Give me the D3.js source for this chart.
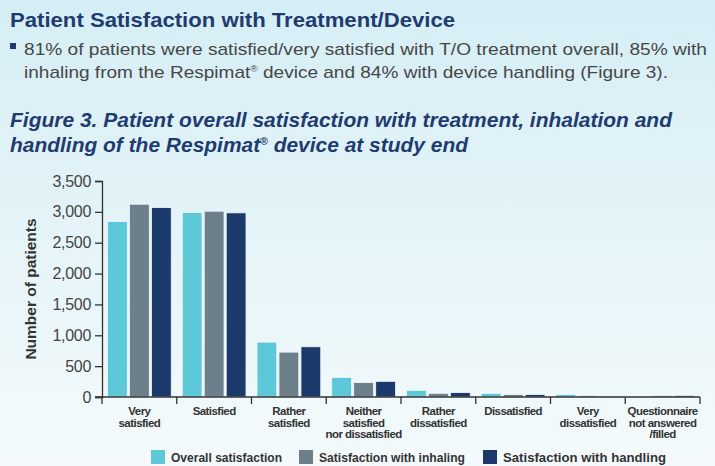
<!DOCTYPE html>
<html><head><meta charset="utf-8">
<script src="https://cdn.jsdelivr.net/npm/d3@7"></script>
<style>
html,body{margin:0;padding:0;}
body{width:715px;height:466px;overflow:hidden;}
text{font-family:"Liberation Sans",Arial,sans-serif;}
</style></head>
<body>
<svg id="c" width="715" height="466"></svg>
<script>
const categories = [
  ["Very","satisfied"],
  ["Satisfied"],
  ["Rather","satisfied"],
  ["Neither","satisfied","nor dissatisfied"],
  ["Rather","dissatisfied"],
  ["Dissatisfied"],
  ["Very","dissatisfied"],
  ["Questionnaire","not answered","/filled"]
];
const seriesNames = ["Overall satisfaction","Satisfaction with inhaling","Satisfaction with handling"];
const overall  = [2843, 2989, 889, 318, 108, 60, 39, 15];
const inhaling = [3124, 3011, 727, 233, 60, 39, 20, 20];
const handling = [3070, 2984, 814, 254, 71, 39, 15, 25];
const yTicks = [0,500,1000,1500,2000,2500,3000,3500];
const colors = ["#5cc8d8","#6c7f8a","#1b3a6b"];

const svg = d3.select("#c");
const defs = svg.append("defs");
const g = defs.append("linearGradient").attr("id","bg").attr("x1",0).attr("y1",0).attr("x2",0).attr("y2",1);
g.append("stop").attr("offset","0%").attr("stop-color","#d5eef5");
g.append("stop").attr("offset","100%").attr("stop-color","#f4fafb");
svg.append("rect").attr("width",715).attr("height",466).attr("fill","url(#bg)");

// header texts
svg.append("text").attr("x",10).attr("y",27).attr("font-size",21).attr("font-weight","bold")
  .attr("fill","#1f3b70").attr("textLength",445).attr("lengthAdjust","spacingAndGlyphs")
  .text("Patient Satisfaction with Treatment/Device");
svg.append("rect").attr("x",10).attr("y",43).attr("width",6).attr("height",6).attr("fill","#1f3b70");
const body1 = svg.append("text").attr("x",24).attr("y",55).attr("font-size",17).attr("fill","#474747")
  .attr("textLength",683).attr("lengthAdjust","spacingAndGlyphs");
body1.text("81% of patients were satisfied/very satisfied with T/O treatment overall, 85% with");
const body2 = svg.append("text").attr("x",24).attr("y",78).attr("font-size",17).attr("fill","#474747")
  .attr("textLength",644).attr("lengthAdjust","spacingAndGlyphs");
body2.append("tspan").text("inhaling from the Respimat");
body2.append("tspan").attr("font-size",9).attr("dy",-6).text("®");
body2.append("tspan").attr("dy",6).text(" device and 84% with device handling (Figure 3).");

svg.append("text").attr("x",10).attr("y",127).attr("font-size",20).attr("font-weight","bold")
  .attr("font-style","italic").attr("fill","#1f3b70").attr("textLength",662).attr("lengthAdjust","spacingAndGlyphs")
  .text("Figure 3. Patient overall satisfaction with treatment, inhalation and");
const f2 = svg.append("text").attr("x",10).attr("y",152).attr("font-size",20).attr("font-weight","bold")
  .attr("font-style","italic").attr("fill","#1f3b70").attr("textLength",458).attr("lengthAdjust","spacingAndGlyphs");
f2.append("tspan").text("handling of the Respimat");
f2.append("tspan").attr("font-size",10).attr("dy",-7).text("®");
f2.append("tspan").attr("dy",7).text(" device at study end");

// chart
const x0 = 102, x1 = 700, yBase = 397, yTop = 181;
const x = d3.scaleBand().domain(d3.range(categories.length)).range([x0,x1]).padding(0);
const xs = d3.scaleBand().domain(d3.range(3)).range([5.5, x.bandwidth()-5.5]).paddingInner(0.1).paddingOuter(0);
const y = d3.scaleLinear().domain([0,3500]).range([yBase,yTop]);

const series = [overall, inhaling, handling];
const grp = svg.append("g");
categories.forEach((c,i)=>{
  const gg = grp.append("g").attr("transform",`translate(${x(i)},0)`);
  gg.selectAll("rect").data(series.map((s,k)=>({k, v:s[i]}))).join("rect")
    .attr("x",d=>xs(d.k)).attr("width",xs.bandwidth())
    .attr("y",d=>y(d.v)).attr("height",d=>yBase-y(d.v))
    .attr("fill",d=>colors[d.k]).attr("stroke","#eef8fa").attr("stroke-width",0.8);
});

// y axis
const yAxis = svg.append("g").attr("transform",`translate(${x0},0)`)
  .call(d3.axisLeft(y).tickValues(yTicks).tickFormat(d3.format(",")).tickSize(7).tickPadding(4));
yAxis.select(".domain").attr("stroke","#333").attr("stroke-width",1.3);
yAxis.selectAll(".tick line").attr("stroke","#333").attr("stroke-width",1.3);
yAxis.selectAll(".tick text").attr("font-size",16).attr("fill","#444").attr("letter-spacing",-0.3)
  .attr("font-family","'Liberation Sans',Arial,sans-serif");

// x axis
const xAxisG = svg.append("g");
xAxisG.append("line").attr("x1",x0-7).attr("x2",x1).attr("y1",yBase).attr("y2",yBase).attr("stroke","#333").attr("stroke-width",1.3);
const bounds = d3.range(categories.length+1).map(i=> i<categories.length ? x(i) : x1);
xAxisG.selectAll("line.t").data(bounds).join("line").attr("class","t")
  .attr("x1",d=>d).attr("x2",d=>d).attr("y1",yBase).attr("y2",yBase+7)
  .attr("stroke","#333").attr("stroke-width",1.3);
categories.forEach((c,i)=>{
  const t = xAxisG.append("text").attr("text-anchor","middle").attr("font-size",11.5)
    .attr("font-weight","bold").attr("fill","#333").attr("letter-spacing",-0.55);
  c.forEach((line,j)=>{
    t.append("tspan").attr("x",x(i)+x.bandwidth()/2).attr("y",415+j*11.5).text(line);
  });
});

// y label
svg.append("text").attr("transform","translate(36,289) rotate(-90)").attr("text-anchor","middle")
  .attr("font-size",15.5).attr("font-weight","bold").attr("fill","#333").text("Number of patients");

// legend
const legX = [151, 299, 483];
const legW = [111, 146, 163];
seriesNames.forEach((n,k)=>{
  svg.append("rect").attr("x",legX[k]).attr("y",450).attr("width",14).attr("height",14).attr("fill",colors[k]);
  svg.append("text").attr("x",legX[k]+20).attr("y",462).attr("font-size",12.5).attr("font-weight","bold")
    .attr("fill","#333").attr("textLength",legW[k]).attr("lengthAdjust","spacingAndGlyphs").text(n);
});
</script>
</body></html>
